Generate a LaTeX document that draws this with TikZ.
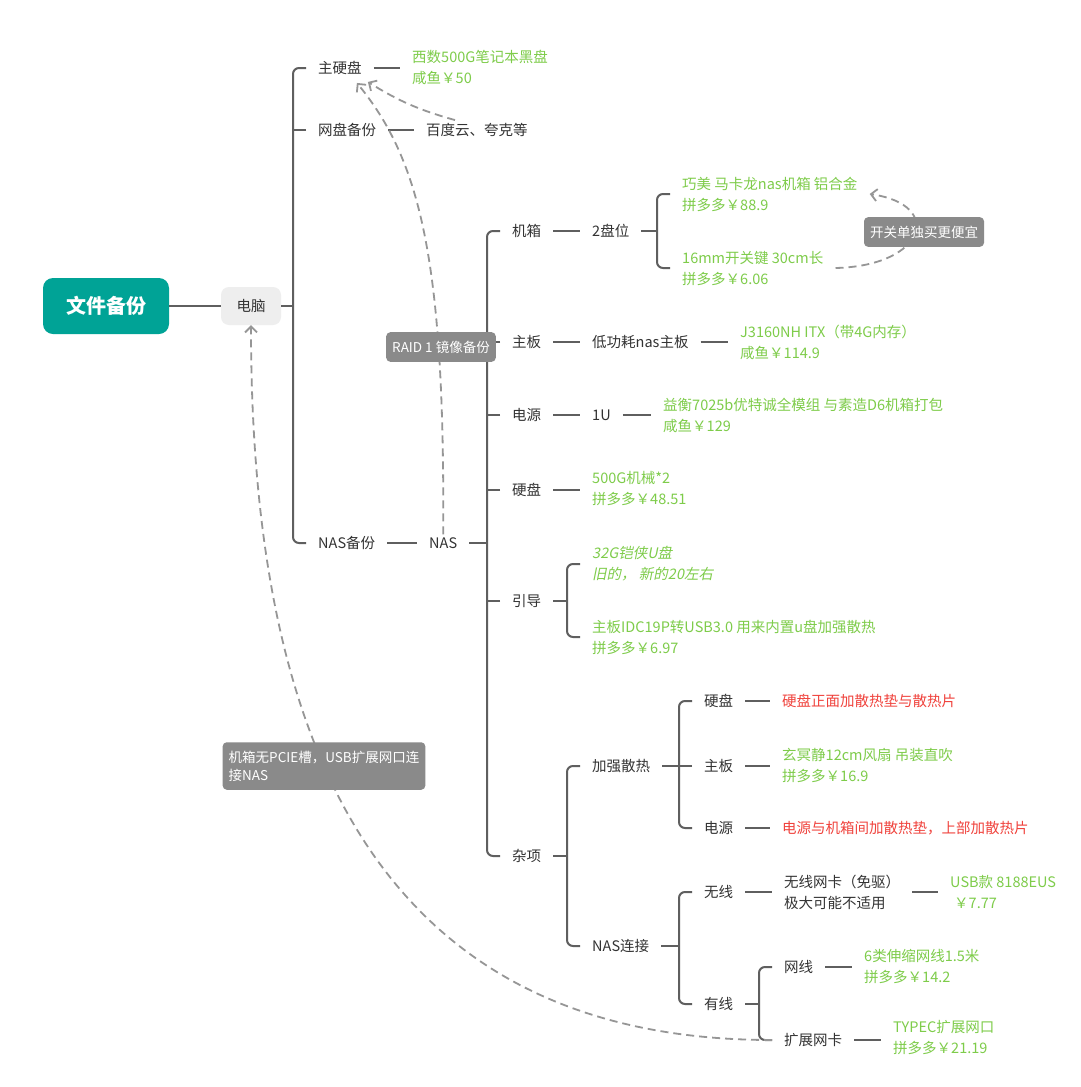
\documentclass[tikz,border=0pt]{standalone}
\usepackage{fontspec}
\setmainfont{Noto Sans CJK SC}
\newfontfamily\cjkslant[FakeSlant=0.2]{Noto Sans CJK SC}
\usetikzlibrary{positioning, arrows.meta}
\definecolor{rootteal}{RGB}{0,163,150}
\definecolor{pcgray}{RGB}{238,238,238}
\definecolor{inkgray}{RGB}{51,51,51}
\definecolor{leafgreen}{RGB}{126,204,74}
\definecolor{alertred}{RGB}{240,66,60}
\definecolor{linegray}{RGB}{95,95,95}
\definecolor{dashgray}{RGB}{150,150,150}
\definecolor{taggray}{RGB}{138,138,138}
\newcommand{\mapfont}{\fontsize{14.5}{21}\selectfont}

\begin{document}
\begin{tikzpicture}[
    x=1pt, y=1pt,
    % Stili dei nodi
    rootbox/.style={rounded corners=10pt, fill=rootteal, text=white, minimum width=126pt, minimum height=56pt, font=\fontsize{20}{24}\selectfont\bfseries},
    pcbox/.style={rounded corners=8pt, fill=pcgray, text=inkgray, minimum width=60pt, minimum height=38pt, font=\mapfont},
    item/.style={anchor=west, inner xsep=12pt, inner ysep=3pt, align=left, text=inkgray, font=\mapfont},
    price/.style={item, text=leafgreen},
    warn/.style={item, text=alertred},
    tag/.style={rounded corners=4pt, fill=taggray, text=white, inner xsep=6pt, inner ysep=8.5pt, font=\fontsize{13.5}{18}\selectfont},
    % Stili delle linee
    link/.style={draw=linegray, line width=2pt},
    bracket/.style={link, rounded corners=6pt},
    rel/.style={draw=dashgray, line width=1.8pt, dash pattern=on 8pt off 5pt, -{Straight Barb[length=6pt, width=12pt]}}
]
    \path[use as bounding box, fill=white] (0,0) rectangle (1080,-1087);

    % Radice
    \node[rootbox] (root) at (106,-306) {文件备份};
    \node[pcbox] (pc) at (251,-306) {电脑};

    % Primo livello
    \node[item] (zyp) at (306,-68) {主硬盘};
    \node[item] (wpbf) at (306,-130) {网盘备份};
    \node[item] (nasbf) at (306,-543) {NAS备份};
    \node[price] (zypnote) at (400,-67) {西数500G笔记本黑盘\\咸鱼￥50};
    \node[item] (bdy) at (414,-130) {百度云、夸克等};
    \node[item] (nas) at (417,-543) {NAS};

    % Componenti del NAS
    \node[item] (jx) at (500,-231) {机箱};
    \node[item] (zb) at (500,-342) {主板};
    \node[item] (dy) at (500,-415) {电源};
    \node[item] (yp) at (500,-490) {硬盘};
    \node[item] (yd) at (500,-601) {引导};
    \node[item] (zx) at (500,-856) {杂项};

    \node[item] (pw) at (580,-231) {2盘位};
    \node[price] (casenote) at (670,-194) {巧美 马卡龙nas机箱 铝合金\\拼多多￥88.9};
    \node[price] (swnote) at (670,-268) {16mm开关键 30cm长\\拼多多￥6.06};
    \node[item] (mbname) at (580,-342) {低功耗nas主板};
    \node[price] (mbnote) at (728,-342) {J3160NH ITX（带4G内存）\\咸鱼￥114.9};
    \node[item] (psname) at (580,-415) {1U};
    \node[price] (psnote) at (651,-415) {益衡7025b优特诚全模组 与素造D6机箱打包\\咸鱼￥129};
    \node[price] (hddnote) at (580,-489) {500G机械*2\\拼多多￥48.51};
    \node[price, font=\mapfont\cjkslant] (usbnote) at (580,-564) {32G铠侠U盘\\旧的， 新的20左右};
    \node[price] (idcnote) at (580,-637) {主板IDC19P转USB3.0 用来内置u盘加强散热\\拼多多￥6.97};

    % Varie
    \node[item] (cool) at (580,-766) {加强散热};
    \node[item] (conn) at (580,-946) {NAS连接};
    \node[item] (coolhdd) at (692,-701) {硬盘};
    \node[item] (coolmb) at (692,-766) {主板};
    \node[item] (coolps) at (692,-828) {电源};
    \node[warn] (coolhddnote) at (770,-701) {硬盘正面加散热垫与散热片};
    \node[price] (fannote) at (770,-765) {玄冥静12cm风扇 吊装直吹\\拼多多￥16.9};
    \node[warn] (coolpsnote) at (770,-828) {电源与机箱间加散热垫，上部加散热片};
    \node[item] (wl) at (692,-892) {无线};
    \node[item] (wd) at (692,-1004) {有线};
    \node[item] (wlcard) at (772,-892) {无线网卡（免驱）\\极大可能不适用};
    \node[price] (wlnote) at (938,-892) {USB款 8188EUS\\\hspace*{4pt}￥7.77};
    \node[item] (cable) at (772,-967) {网线};
    \node[item] (nic) at (772,-1040) {扩展网卡};
    \node[price] (cablenote) at (852,-966) {6类伸缩网线1.5米\\拼多多￥14.2};
    \node[price] (nicnote) at (881,-1038) {TYPEC扩展网口\\拼多多￥21.19};

    % Rami
    \draw[link] (root.east) -- (pc.west);
    \draw[link] (pc.east) -- ([xshift=-13pt]zyp.west |- pc.east);
    \draw[bracket] (zyp.west) -- ++(-13,0) |- (nasbf.west);
    \draw[link] (wpbf.west) -- ++(-13,0);
    \draw[link] (zyp.east) -- (zyp.east -| zypnote.west);
    \draw[link] (wpbf.east) -- (bdy.west);
    \draw[link] (nasbf.east) -- (nas.west);

    \draw[link] (nas.east) -- ([xshift=-13pt]jx.west |- nas.east);
    \draw[bracket] (jx.west) -- ++(-13,0) |- (zx.west);
    \foreach \c in {zb, dy, yp, yd}
        \draw[link] (\c.west) -- ++(-13,0);

    \draw[link] (jx.east) -- (pw.west);
    \draw[link] (pw.east) -- ([xshift=-13pt]casenote.west |- pw.east);
    \draw[bracket] (casenote.west) -- ++(-13,0) |- (swnote.west);
    \draw[link] (zb.east) -- (mbname.west);
    \draw[link] (mbname.east) -- (mbnote.west);
    \draw[link] (dy.east) -- (psname.west);
    \draw[link] (psname.east) -- (psnote.west);
    \draw[link] (yp.east) -- (yp.east -| hddnote.west);
    \draw[link] (yd.east) -- ([xshift=-13pt]usbnote.west |- yd.east);
    \draw[bracket] (usbnote.west) -- ++(-13,0) |- (idcnote.west);

    \draw[link] (zx.east) -- ([xshift=-13pt]cool.west |- zx.east);
    \draw[bracket] (cool.west) -- ++(-13,0) |- (conn.west);
    \draw[link] (cool.east) -- ([xshift=-13pt]coolhdd.west |- cool.east);
    \draw[bracket] (coolhdd.west) -- ++(-13,0) |- (coolps.west);
    \draw[link] (coolmb.west) -- ++(-13,0);
    \draw[link] (coolhdd.east) -- (coolhddnote.west);
    \draw[link] (coolmb.east) -- (coolmb.east -| fannote.west);
    \draw[link] (coolps.east) -- (coolpsnote.west);
    \draw[link] (conn.east) -- ([xshift=-13pt]wl.west |- conn.east);
    \draw[bracket] (wl.west) -- ++(-13,0) |- (wd.west);
    \draw[link] (wl.east) -- (wlcard.west);
    \draw[link] (wlcard.east) -- (wlnote.west);
    \draw[link] (wd.east) -- ([xshift=-13pt]cable.west |- wd.east);
    \draw[bracket] (cable.west) -- ++(-13,0) |- (nic.west);
    \draw[link] (cable.east) -- (cable.east -| cablenote.west);
    \draw[link] (nic.east) -- (nic.east -| nicnote.west);

    % Relazioni tratteggiate
    \draw[rel] ([xshift=41pt]bdy.north west) to[bend left=8] ([xshift=-6pt, yshift=-4pt]zyp.south east);
    \draw[rel] (nas.north) .. controls (445,-260) and (420,-160) .. ([xshift=-17pt, yshift=-5pt]zyp.south east);
    \draw[rel] (swnote.east) .. controls (925,-266) and (945,-205) .. (casenote.east);
    \draw[rel] (nic.west) .. controls (350,-1040) and (251,-700) .. (pc.south);

    % Etichette
    \node[tag] (raid) at (441,-347) {RAID 1 镜像备份};
    \node[tag] (swtag) at (924,-232) {开关单独买更便宜};
    \node[tag, align=left] (pcietag) at (324,-766) {机箱无PCIE槽，USB扩展网口连\\接NAS};

\end{tikzpicture}
\end{document}
